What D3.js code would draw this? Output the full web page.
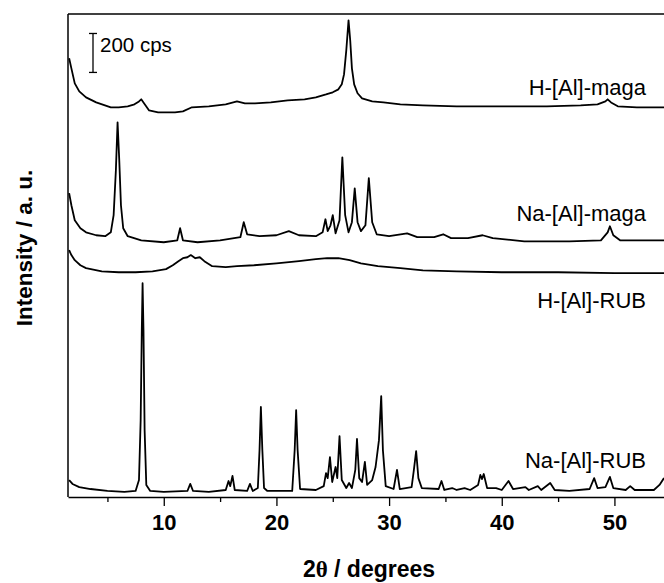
<!DOCTYPE html>
<html><head><meta charset="utf-8">
<script src="https://cdn.jsdelivr.net/npm/d3@7"></script>
<style>body{margin:0;background:#fff}svg{display:block}</style>
</head><body>
<svg id="chart" width="664" height="583"></svg>
<script>
// 2theta (degrees) and stacked intensity (cps, offsets included)
const hMaga = [[1.6,2253],[1.8,2201],[2.1,2124],[2.5,2083],[3.1,2052],[4.0,2026],[5.3,2001],[6.0,2001],[6.8,2006],[7.4,2016],[7.8,2031],[8.0,2042],[8.2,2026],[8.7,1985],[9.5,1975],[11.0,1975],[11.7,1980],[12.5,2001],[14.0,2006],[15.5,2016],[16.5,2031],[17.2,2021],[18.1,2021],[19.5,2026],[21.0,2037],[22.5,2042],[23.5,2052],[24.4,2067],[25.0,2078],[25.5,2093],[25.8,2119],[26.0,2170],[26.2,2293],[26.4,2447],[26.55,2344],[26.7,2201],[26.9,2119],[27.2,2073],[27.6,2047],[28.5,2031],[29.5,2026],[31,2016],[33,2011],[36,2006],[40,2006],[44,2006],[47,2011],[48.5,2016],[49.2,2031],[49.4,2042],[49.7,2026],[50.3,2006],[52,2001],[54.4,2001]];
const naMaga = [[1.6,1560],[1.8,1498],[2.1,1421],[2.6,1380],[3.1,1359],[4.0,1344],[4.8,1339],[5.3,1359],[5.55,1447],[5.75,1678],[5.9,1924],[6.05,1729],[6.2,1498],[6.4,1380],[6.8,1339],[8.0,1318],[10.0,1308],[11.2,1318],[11.45,1380],[11.7,1318],[13,1308],[15,1318],[16.8,1334],[17.1,1411],[17.4,1349],[18.5,1339],[20,1344],[21.1,1365],[22,1344],[23.5,1339],[24.1,1359],[24.35,1426],[24.55,1365],[24.8,1395],[25.0,1447],[25.25,1354],[25.6,1421],[25.85,1744],[26.1,1447],[26.4,1359],[26.7,1411],[26.95,1585],[27.2,1411],[27.5,1365],[27.9,1395],[28.2,1637],[28.5,1411],[28.9,1349],[30,1339],[31.6,1354],[32.5,1334],[34.0,1334],[34.8,1349],[35.5,1329],[37,1329],[38.3,1344],[39.2,1329],[42,1313],[46,1313],[48.8,1318],[49.4,1359],[49.6,1390],[49.9,1344],[50.5,1318],[54.4,1318]];
const hRub = [[1.6,1267],[1.8,1242],[2.1,1216],[2.6,1190],[3.1,1175],[4.5,1159],[6.0,1154],[7.5,1154],[9,1159],[10.2,1170],[10.8,1190],[11.3,1211],[11.7,1226],[12.1,1231],[12.4,1242],[12.8,1226],[13.2,1231],[13.6,1211],[14.3,1185],[15.5,1180],[16.5,1185],[18,1190],[20,1200],[22,1211],[23.5,1221],[24.5,1226],[25.5,1226],[26.5,1216],[27.5,1200],[29,1185],[31,1175],[33,1164],[36,1159],[40,1154],[45,1154],[50,1149],[54.4,1149]];
const naRub = [[1.6,87],[1.9,67],[2.5,51],[3.5,41],[5,31],[6.5,26],[7.5,31],[7.8,87],[7.95,395],[8.05,857],[8.12,1098],[8.2,857],[8.3,344],[8.45,62],[8.8,31],[10,26],[12.1,31],[12.35,67],[12.6,31],[14,26],[15.5,36],[15.75,82],[15.9,56],[16.1,108],[16.3,36],[17.4,31],[17.65,67],[17.9,31],[18.35,46],[18.5,241],[18.62,462],[18.75,241],[18.9,46],[19.2,31],[21.4,31],[21.62,241],[21.75,446],[21.88,241],[22.1,41],[23.5,36],[24.2,56],[24.4,123],[24.55,97],[24.75,205],[24.95,77],[25.25,154],[25.4,97],[25.6,313],[25.8,87],[26.2,46],[26.45,72],[26.7,46],[27.0,139],[27.15,298],[27.35,97],[27.6,77],[27.85,180],[28.05,62],[28.5,87],[28.8,154],[29.1,292],[29.3,518],[29.45,241],[29.7,56],[30.4,41],[30.7,139],[30.95,41],[32.0,51],[32.2,139],[32.4,236],[32.6,97],[32.9,46],[34.4,41],[34.65,82],[34.9,36],[35.6,46],[36.0,36],[36.7,46],[37.2,36],[37.9,62],[38.1,113],[38.25,92],[38.4,118],[38.7,46],[39.5,46],[40.0,36],[40.6,82],[41.0,41],[42.1,51],[42.4,36],[43.2,56],[43.5,36],[44.3,72],[44.7,36],[46,31],[47.8,41],[48.2,97],[48.5,46],[49.2,51],[49.6,103],[49.9,46],[51.0,36],[51.4,56],[51.8,36],[53.5,36],[54.0,62],[54.4,97]];
const seriesNames = ["H-[Al]-maga","Na-[Al]-maga","H-[Al]-RUB","Na-[Al]-RUB"];
const xTicks = [10,20,30,40,50];
const xMinorTicks = [5,15,25,35,45];
const scaleBar = [2180,2380]; // 200 cps bar

const svg = d3.select("#chart");
const L=68, T=14, B=497, R=664;
const x = d3.scaleLinear().domain([1.5,54.4]).range([L,R]);
const y = d3.scaleLinear().domain([0,2480]).range([B,T]);
const font = "'Liberation Sans', Arial, sans-serif";

svg.append("defs").append("clipPath").attr("id","clip").append("rect")
  .attr("x",L).attr("y",T).attr("width",R-L+10).attr("height",B-T);

const line = d3.line().x(d=>x(d[0])).y(d=>y(d[1]));
const g = svg.append("g").attr("clip-path","url(#clip)");
[hMaga,naMaga,hRub,naRub].forEach(s=>{
  g.append("path").datum(s).attr("d",line).attr("fill","none")
   .attr("stroke","#000").attr("stroke-width",1.8).attr("stroke-linejoin","round");
});

// frame
svg.append("line").attr("x1",L).attr("x2",R+5).attr("y1",T).attr("y2",T).attr("stroke","#000").attr("stroke-width",1.5);
svg.append("line").attr("x1",L).attr("x2",L).attr("y1",T).attr("y2",B).attr("stroke","#000").attr("stroke-width",1.5);

// x axis
const ax = svg.append("g").attr("transform",`translate(0,${B})`)
  .call(d3.axisBottom(x).tickValues(xTicks).tickSize(9).tickSizeOuter(0).tickPadding(8));
ax.select(".domain").attr("stroke-width",1.5);
ax.selectAll(".tick line").attr("stroke-width",1.3);
ax.selectAll("text").attr("font-family",font).attr("font-size",22).attr("font-weight","bold").attr("fill","#000");
const mx = svg.append("g").attr("transform",`translate(0,${B})`)
  .call(d3.axisBottom(x).tickValues(xMinorTicks).tickSize(5).tickFormat(""));
mx.select(".domain").remove();
mx.selectAll(".tick line").attr("stroke-width",1.3);

// titles
svg.append("text").attr("x",369).attr("y",577).attr("text-anchor","middle")
  .attr("font-family",font).attr("font-size",23).attr("font-weight","bold")
  .html("2<tspan font-family=\"'Liberation Serif', 'Times New Roman', serif\">θ</tspan> / degrees");
svg.append("text").attr("transform","translate(32,248) rotate(-90)").attr("text-anchor","middle")
  .attr("font-family",font).attr("font-size",22.5).attr("font-weight","bold").text("Intensity / a. u.");

// series labels
seriesNames.forEach((n,i)=>{
  svg.append("text").attr("x",646).attr("y",[95,221,308,468][i]).attr("text-anchor","end")
    .attr("font-family",font).attr("font-size",22).attr("fill","#000").text(n);
});

// scale bar
const sbx = 93;
svg.append("line").attr("x1",sbx).attr("x2",sbx).attr("y1",y(scaleBar[0])).attr("y2",y(scaleBar[1])).attr("stroke","#000").attr("stroke-width",1.3);
scaleBar.forEach(v=>svg.append("line").attr("x1",sbx-4).attr("x2",sbx+4).attr("y1",y(v)).attr("y2",y(v)).attr("stroke","#000").attr("stroke-width",1.3));
svg.append("text").attr("x",100).attr("y",52).attr("font-family",font).attr("font-size",20.5).text("200 cps");
</script>
</body></html>
